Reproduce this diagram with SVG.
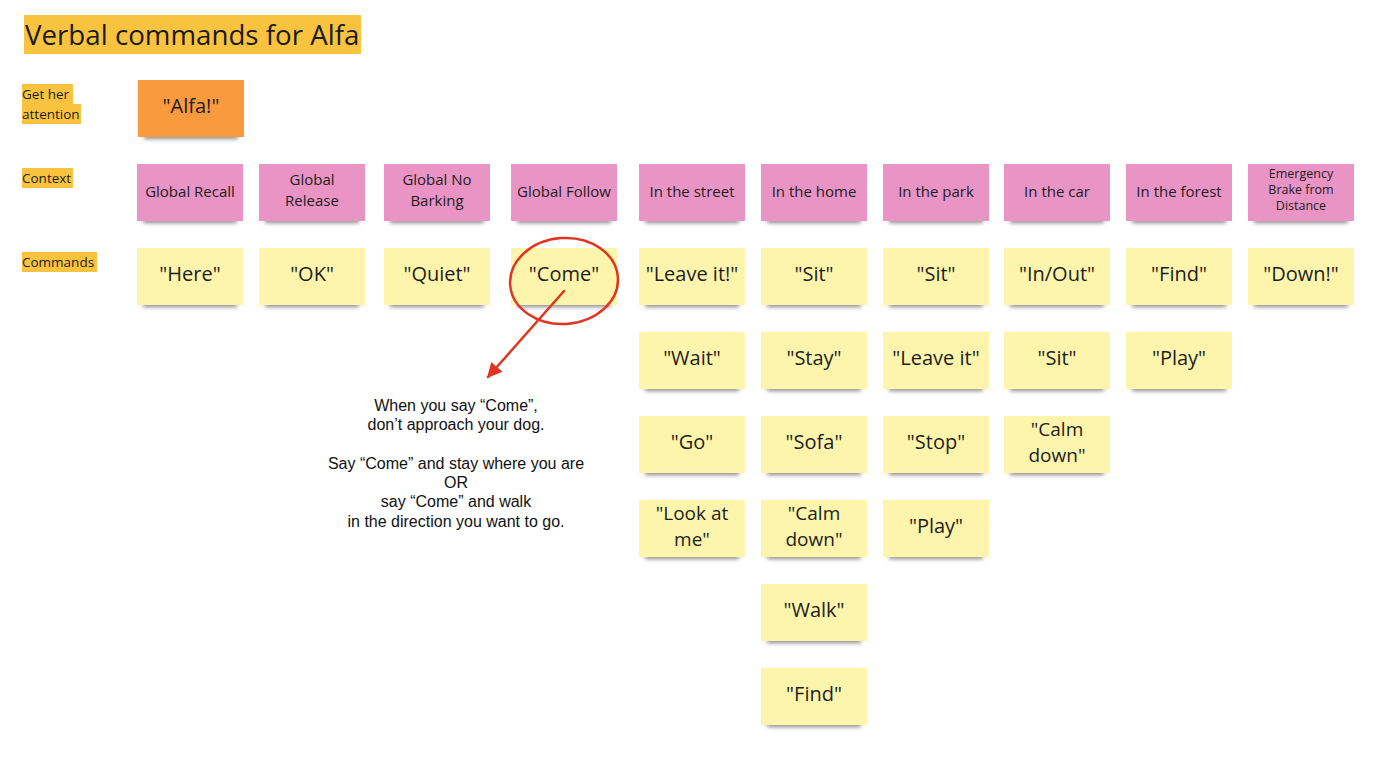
<svg xmlns="http://www.w3.org/2000/svg" width="1400" height="777" viewBox="0 0 1400 777">
<defs>
<filter id="blur" x="-20%" y="-100%" width="140%" height="300%"><feGaussianBlur stdDeviation="2.2"/></filter>
<marker id="arrow" viewBox="0 0 10 10" refX="9" refY="5" markerWidth="6" markerHeight="6" markerUnits="strokeWidth" orient="auto"><path d="M0,0 L10,5 L0,10 z" fill="#e0351f"/></marker>
<style>
.sh{fill:#000;opacity:.45;filter:url(#blur)}
.y{fill:#fdf5ab}
.p{fill:#ea93c5}
.o{fill:#f99a3f}
.hl{fill:#f9c33f}
.t{font-family:"Open Sans","Noto Sans",sans-serif;fill:#1d1d1d;text-anchor:middle}
.cmd{font-size:20px}
.cmd2{font-size:19px}
.ctx{font-size:15px}
.em{font-size:12.5px}
.lbl{font-family:"Open Sans","Noto Sans",sans-serif;font-size:13.5px;fill:#1d1d1d}
.note{font-family:"Liberation Sans",Arial,sans-serif;font-size:16px;fill:#111;text-anchor:middle}
</style>
</defs>
<rect width="1400" height="777" fill="#ffffff"/>

<g id="title">
<rect class="hl" x="24" y="15" width="337" height="39"/>
<text x="25" y="45" font-family="'Open Sans','Noto Sans',sans-serif" font-size="27.7" fill="#1a1a1a">Verbal commands for Alfa</text>
</g>

<g id="label-attention">
<rect class="hl" x="22" y="84" width="51" height="20"/>
<rect class="hl" x="22" y="104" width="59" height="20"/>
<text class="lbl" x="22" y="99">Get her<tspan x="22" y="119">attention</tspan></text>
</g>
<g id="label-context">
<rect class="hl" x="22" y="168" width="51" height="20"/>
<text class="lbl" x="22" y="183">Context</text>
</g>
<g id="label-commands">
<rect class="hl" x="22" y="252" width="75" height="20"/>
<text class="lbl" x="22" y="267">Commands</text>
</g>

<g id="alfa">
<rect class="sh" x="144" y="130" width="94" height="9"/>
<rect class="o" x="138" y="80" width="106" height="57"/>
<text class="t cmd" x="191" y="113">"Alfa!"</text>
</g>

<!-- Context row -->
<g id="ctx-global-recall"><rect class="sh" x="143" y="214" width="94" height="9"/><rect class="p" x="137" y="164" width="106" height="57"/><text class="t ctx" x="190" y="197">Global Recall</text></g>
<g id="ctx-global-release"><rect class="sh" x="265" y="214" width="94" height="9"/><rect class="p" x="259" y="164" width="106" height="57"/><text class="t ctx" x="312" y="185">Global<tspan x="312" y="206">Release</tspan></text></g>
<g id="ctx-global-no-barking"><rect class="sh" x="390" y="214" width="94" height="9"/><rect class="p" x="384" y="164" width="106" height="57"/><text class="t ctx" x="437" y="185">Global No<tspan x="437" y="206">Barking</tspan></text></g>
<g id="ctx-global-follow"><rect class="sh" x="517" y="214" width="94" height="9"/><rect class="p" x="511" y="164" width="106" height="57"/><text class="t ctx" x="564" y="197">Global Follow</text></g>
<g id="ctx-street"><rect class="sh" x="645" y="214" width="94" height="9"/><rect class="p" x="639" y="164" width="106" height="57"/><text class="t ctx" x="692" y="197">In the street</text></g>
<g id="ctx-home"><rect class="sh" x="767" y="214" width="94" height="9"/><rect class="p" x="761" y="164" width="106" height="57"/><text class="t ctx" x="814" y="197">In the home</text></g>
<g id="ctx-park"><rect class="sh" x="889" y="214" width="94" height="9"/><rect class="p" x="883" y="164" width="106" height="57"/><text class="t ctx" x="936" y="197">In the park</text></g>
<g id="ctx-car"><rect class="sh" x="1010" y="214" width="94" height="9"/><rect class="p" x="1004" y="164" width="106" height="57"/><text class="t ctx" x="1057" y="197">In the car</text></g>
<g id="ctx-forest"><rect class="sh" x="1132" y="214" width="94" height="9"/><rect class="p" x="1126" y="164" width="106" height="57"/><text class="t ctx" x="1179" y="197">In the forest</text></g>
<g id="ctx-emergency"><rect class="sh" x="1254" y="214" width="94" height="9"/><rect class="p" x="1248" y="164" width="106" height="57"/><text class="t em" x="1301" y="178">Emergency<tspan x="1301" y="194">Brake from</tspan><tspan x="1301" y="210">Distance</tspan></text></g>

<!-- Commands row 1 -->
<g id="cmd-here"><rect class="sh" x="143" y="298" width="94" height="9"/><rect class="y" x="137" y="248" width="106" height="57"/><text class="t cmd" x="190" y="281">"Here"</text></g>
<g id="cmd-ok"><rect class="sh" x="265" y="298" width="94" height="9"/><rect class="y" x="259" y="248" width="106" height="57"/><text class="t cmd" x="312" y="281">"OK"</text></g>
<g id="cmd-quiet"><rect class="sh" x="390" y="298" width="94" height="9"/><rect class="y" x="384" y="248" width="106" height="57"/><text class="t cmd" x="437" y="281">"Quiet"</text></g>
<g id="cmd-come"><rect class="sh" x="517" y="298" width="94" height="9"/><rect class="y" x="511" y="248" width="106" height="57"/><text class="t cmd" x="564" y="281">"Come"</text></g>
<g id="cmd-leave-it-street"><rect class="sh" x="645" y="298" width="94" height="9"/><rect class="y" x="639" y="248" width="106" height="57"/><text class="t cmd" x="692" y="281">"Leave it!"</text></g>
<g id="cmd-sit-home"><rect class="sh" x="767" y="298" width="94" height="9"/><rect class="y" x="761" y="248" width="106" height="57"/><text class="t cmd" x="814" y="281">"Sit"</text></g>
<g id="cmd-sit-park"><rect class="sh" x="889" y="298" width="94" height="9"/><rect class="y" x="883" y="248" width="106" height="57"/><text class="t cmd" x="936" y="281">"Sit"</text></g>
<g id="cmd-inout-car"><rect class="sh" x="1010" y="298" width="94" height="9"/><rect class="y" x="1004" y="248" width="106" height="57"/><text class="t cmd" x="1057" y="281">"In/Out"</text></g>
<g id="cmd-find-forest"><rect class="sh" x="1132" y="298" width="94" height="9"/><rect class="y" x="1126" y="248" width="106" height="57"/><text class="t cmd" x="1179" y="281">"Find"</text></g>
<g id="cmd-down"><rect class="sh" x="1254" y="298" width="94" height="9"/><rect class="y" x="1248" y="248" width="106" height="57"/><text class="t cmd" x="1301" y="281">"Down!"</text></g>

<!-- Commands row 2 -->
<g id="cmd-wait"><rect class="sh" x="645" y="382" width="94" height="9"/><rect class="y" x="639" y="332" width="106" height="57"/><text class="t cmd" x="692" y="365">"Wait"</text></g>
<g id="cmd-stay"><rect class="sh" x="767" y="382" width="94" height="9"/><rect class="y" x="761" y="332" width="106" height="57"/><text class="t cmd" x="814" y="365">"Stay"</text></g>
<g id="cmd-leave-it-park"><rect class="sh" x="889" y="382" width="94" height="9"/><rect class="y" x="883" y="332" width="106" height="57"/><text class="t cmd" x="936" y="365">"Leave it"</text></g>
<g id="cmd-sit-car"><rect class="sh" x="1010" y="382" width="94" height="9"/><rect class="y" x="1004" y="332" width="106" height="57"/><text class="t cmd" x="1057" y="365">"Sit"</text></g>
<g id="cmd-play-forest"><rect class="sh" x="1132" y="382" width="94" height="9"/><rect class="y" x="1126" y="332" width="106" height="57"/><text class="t cmd" x="1179" y="365">"Play"</text></g>

<!-- Commands row 3 -->
<g id="cmd-go"><rect class="sh" x="645" y="466" width="94" height="9"/><rect class="y" x="639" y="416" width="106" height="57"/><text class="t cmd" x="692" y="449">"Go"</text></g>
<g id="cmd-sofa"><rect class="sh" x="767" y="466" width="94" height="9"/><rect class="y" x="761" y="416" width="106" height="57"/><text class="t cmd" x="814" y="449">"Sofa"</text></g>
<g id="cmd-stop"><rect class="sh" x="889" y="466" width="94" height="9"/><rect class="y" x="883" y="416" width="106" height="57"/><text class="t cmd" x="936" y="449">"Stop"</text></g>
<g id="cmd-calm-car"><rect class="sh" x="1010" y="466" width="94" height="9"/><rect class="y" x="1004" y="416" width="106" height="57"/><text class="t cmd2" x="1057" y="436">"Calm<tspan x="1057" y="462">down"</tspan></text></g>

<!-- Commands row 4 -->
<g id="cmd-look"><rect class="sh" x="645" y="550" width="94" height="9"/><rect class="y" x="639" y="500" width="106" height="57"/><text class="t cmd2" x="692" y="520">"Look at<tspan x="692" y="546">me"</tspan></text></g>
<g id="cmd-calm-home"><rect class="sh" x="767" y="550" width="94" height="9"/><rect class="y" x="761" y="500" width="106" height="57"/><text class="t cmd2" x="814" y="520">"Calm<tspan x="814" y="546">down"</tspan></text></g>
<g id="cmd-play-park"><rect class="sh" x="889" y="550" width="94" height="9"/><rect class="y" x="883" y="500" width="106" height="57"/><text class="t cmd" x="936" y="533">"Play"</text></g>

<!-- Commands row 5, 6 -->
<g id="cmd-walk"><rect class="sh" x="767" y="634" width="94" height="9"/><rect class="y" x="761" y="584" width="106" height="57"/><text class="t cmd" x="814" y="617">"Walk"</text></g>
<g id="cmd-find-home"><rect class="sh" x="767" y="718" width="94" height="9"/><rect class="y" x="761" y="668" width="106" height="57"/><text class="t cmd" x="814" y="701">"Find"</text></g>

<g id="annotation-text">
<text class="note" x="456" y="411">When you say “Come”,</text>
<text class="note" x="456" y="430">don’t approach your dog.</text>
<text class="note" x="456" y="469">Say “Come” and stay where you are</text>
<text class="note" x="456" y="488">OR</text>
<text class="note" x="456" y="507">say “Come” and walk</text>
<text class="note" x="456" y="527">in the direction you want to go.</text>
</g>

<g id="connectors" fill="none" stroke="#e0351f" stroke-width="2.5" stroke-linecap="round">
<ellipse cx="564" cy="281" rx="54" ry="43" transform="rotate(-4 564 281)"/>
<path d="M564,291 L488,377" marker-end="url(#arrow)"/>
</g>
</svg>
